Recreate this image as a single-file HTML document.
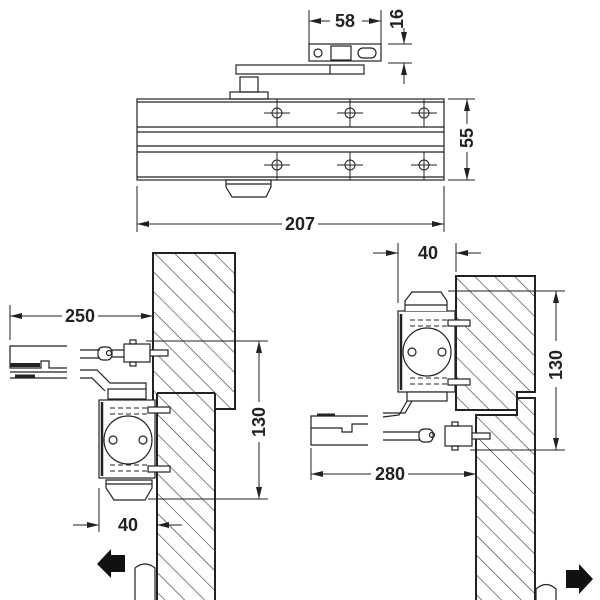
<!DOCTYPE html>
<html><head><meta charset="utf-8"><style>
html,body{margin:0;padding:0;background:#fff;}
svg{display:block;}
text{font-family:"Liberation Sans",Arial,sans-serif;font-weight:bold;font-size:18px;fill:#222;}
</style></head><body>
<svg width="600" height="600" viewBox="0 0 600 600" xmlns="http://www.w3.org/2000/svg">
<defs>
<pattern id="h" patternUnits="userSpaceOnUse" width="14" height="14" patternTransform="rotate(-45)">
<line x1="0" y1="0" x2="0" y2="14" stroke="#333" stroke-width="1.2"/>
</pattern>
<marker id="a" markerWidth="12" markerHeight="6" refX="12" refY="3" orient="auto" markerUnits="userSpaceOnUse">
<path d="M0,0 L12,3 L0,6 Z" fill="#222"/>
</marker>
</defs>
<g fill="none" stroke="#222" stroke-width="1.2">
<!-- TOP VIEW -->
<rect x="137" y="99" width="307" height="81" fill="#fff"/>
<line x1="137" y1="102" x2="444" y2="102"/>
<line x1="137" y1="127" x2="444" y2="127"/>
<line x1="137" y1="132" x2="444" y2="132"/>
<line x1="137" y1="146" x2="444" y2="146"/>
<line x1="137" y1="152" x2="444" y2="152"/>
<line x1="137" y1="177" x2="444" y2="177"/>
<g stroke-width="1">
<circle cx="277" cy="113" r="5"/><circle cx="350" cy="113" r="5"/><circle cx="424" cy="113" r="5"/>
<circle cx="277" cy="165" r="5"/><circle cx="350" cy="165" r="5"/><circle cx="424" cy="165" r="5"/>
<path d="M264 113h26M277 99v28M337 113h26M350 99v28M411 113h26M424 99v28"/>
<path d="M264 165h26M277 152v28M337 165h26M350 152v28M411 165h26M424 152v28"/>
</g>
<rect x="230" y="92" width="38" height="7"/>
<rect x="240" y="77" width="18" height="15"/>
<rect x="236" y="65" width="128" height="9"/>
<line x1="330" y1="65" x2="330" y2="74"/>
<rect x="309" y="44" width="72" height="17"/>
<circle cx="318" cy="53" r="4"/>
<rect x="358" y="48" width="18" height="10" rx="5"/>
<rect x="331" y="46" width="20" height="14"/>
<path d="M226 180 L271 180 L271 187 L266 197 L232 197 L226 187 Z" fill="#fff"/>
<line x1="226" y1="184" x2="271" y2="184"/>
<!-- dims top -->
<g stroke-width="1">
<line x1="309" y1="10" x2="309" y2="44"/><line x1="381" y1="10" x2="381" y2="44"/>
<line x1="330" y1="21" x2="309" y2="21" marker-end="url(#a)"/><line x1="362" y1="21" x2="381" y2="21" marker-end="url(#a)"/>
<line x1="388" y1="44" x2="412" y2="44"/><line x1="388" y1="63" x2="412" y2="63"/>
<line x1="404" y1="28" x2="404" y2="44" marker-end="url(#a)"/><line x1="404" y1="84" x2="404" y2="63" marker-end="url(#a)"/>
<line x1="448" y1="99" x2="475" y2="99"/><line x1="448" y1="180" x2="475" y2="180"/>
<line x1="467" y1="124" x2="467" y2="99" marker-end="url(#a)"/><line x1="467" y1="152" x2="467" y2="180" marker-end="url(#a)"/>
<line x1="137" y1="186" x2="137" y2="232"/><line x1="444" y1="186" x2="444" y2="232"/>
<line x1="282" y1="224" x2="137" y2="224" marker-end="url(#a)"/><line x1="318" y1="224" x2="444" y2="224" marker-end="url(#a)"/>
</g>

<!-- BOTTOM LEFT -->
<rect x="153" y="253" width="82" height="156" fill="url(#h)" stroke-width="2"/>
<rect x="157" y="393" width="58" height="210" fill="#fff" stroke="none"/>
<rect x="157" y="393" width="58" height="210" fill="url(#h)" stroke="none"/>
<line x1="157" y1="393" x2="157" y2="600" stroke-width="2"/><line x1="215" y1="393" x2="215" y2="600" stroke-width="2"/>
<line x1="157" y1="393" x2="215" y2="393" stroke-width="2"/>
<rect x="99" y="400" width="56" height="78" fill="#fff"/>
<line x1="102" y1="402" x2="102" y2="476" stroke-width="2.5"/>
<circle cx="128" cy="440" r="24" fill="#fff"/>
<circle cx="113" cy="440" r="4"/><circle cx="143" cy="440" r="4"/>
<path d="M110 408h38M110 414h38M110 465h38M110 471h38" stroke-dasharray="5,3" stroke-width="1"/>
<rect x="148" y="407" width="22" height="6" fill="#fff"/><rect x="148" y="466" width="22" height="6" fill="#fff"/>
<rect x="108" y="389" width="38" height="10" fill="#fff"/>
<path d="M106 480 H152 V488 L145 500 H114 L106 488 Z" fill="#fff"/>
<line x1="106" y1="484" x2="152" y2="484"/>
<path d="M80 370 H97 L110 383 H146 V389"/><path d="M80 378 H92 L105 391"/>
<path d="M80 350 H100 M80 358 H100"/>
<rect x="98" y="347" width="14" height="13" rx="5"/><circle cx="109" cy="353" r="2.5"/>
<path d="M112 350 H125 M112 357 H125"/>
<rect x="124" y="344" width="26" height="18" fill="#fff"/>
<rect x="130" y="340" width="6" height="4"/><rect x="130" y="362" width="6" height="4"/>
<rect x="150" y="350" width="18" height="6" fill="#fff"/>
<path d="M67 346 H10 V368 H41 V361 H49 V368 H67 M10 372 H67 M10 378 H67"/>
<line x1="10" y1="365" x2="40" y2="365" stroke-width="4"/><line x1="15" y1="376" x2="35" y2="376" stroke-width="3"/>
<g stroke-width="1">
<line x1="10" y1="305" x2="10" y2="340"/>
<line x1="62" y1="316" x2="10" y2="316" marker-end="url(#a)"/><line x1="98" y1="316" x2="153" y2="316" marker-end="url(#a)"/>
<line x1="146" y1="341" x2="268" y2="341"/><line x1="148" y1="499" x2="268" y2="499"/>
<line x1="259" y1="402" x2="259" y2="341" marker-end="url(#a)"/><line x1="259" y1="442" x2="259" y2="499" marker-end="url(#a)"/>
<line x1="99" y1="488" x2="99" y2="532"/>
<line x1="73" y1="525" x2="99" y2="525" marker-end="url(#a)"/><line x1="182" y1="525" x2="157" y2="525" marker-end="url(#a)"/>
</g>
<path d="M125 555 H111 V549 L97 564 L111 578 V572 H125 Z" fill="#111" stroke="none"/>
<path d="M135 600 V568 Q145 560 155 568 V600" fill="#fff"/>

<!-- BOTTOM RIGHT -->
<path d="M456 276 H535 V392 H517 V410 H456 Z" fill="url(#h)" stroke-width="2"/>
<path d="M476 603 V415 H517 V398 H535 V603 Z" fill="#fff" stroke-width="2"/>
<path d="M476 603 V415 H517 V398 H535 V603 Z" fill="url(#h)" stroke-width="2"/>
<rect x="398" y="311" width="57" height="81" fill="#fff"/>
<line x1="401" y1="314" x2="401" y2="390" stroke-width="2.5"/>
<circle cx="427" cy="352" r="24" fill="#fff"/>
<circle cx="412" cy="352" r="4"/><circle cx="442" cy="352" r="4"/>
<path d="M410 320h38M410 326h38M410 378h38M410 384h38" stroke-dasharray="5,3" stroke-width="1"/>
<rect x="448" y="320" width="22" height="6" fill="#fff"/><rect x="448" y="379" width="22" height="6" fill="#fff"/>
<path d="M405 311 V301 L412 292 H441 L447 301 V311" fill="#fff"/>
<line x1="405" y1="305" x2="447" y2="305"/>
<rect x="407" y="392" width="40" height="9" fill="#fff"/>
<path d="M412 401 L405 413 H383 M407 401 L399 415 L383 417"/>
<path d="M383 432 H420 M383 440 H420"/>
<rect x="419" y="429" width="14" height="13" rx="5"/><circle cx="432" cy="435" r="2.5"/>
<rect x="445" y="426" width="27" height="20" fill="#fff"/>
<rect x="452" y="422" width="6" height="4"/><rect x="452" y="446" width="6" height="4"/>
<rect x="472" y="433" width="18" height="6" fill="#fff"/>
<path d="M368 416 H311 V445 H368 M311 428 H342 V432 H352 V424 H368"/>
<line x1="317" y1="415" x2="335" y2="415" stroke-width="3"/>
<g stroke-width="1">
<line x1="398" y1="243" x2="398" y2="303"/><line x1="456" y1="243" x2="456" y2="272"/>
<line x1="373" y1="253" x2="398" y2="253" marker-end="url(#a)"/><line x1="481" y1="253" x2="456" y2="253" marker-end="url(#a)"/>
<line x1="448" y1="291" x2="565" y2="291"/><line x1="470" y1="450" x2="565" y2="450"/>
<line x1="556" y1="341" x2="556" y2="291" marker-end="url(#a)"/><line x1="556" y1="387" x2="556" y2="450" marker-end="url(#a)"/>
<line x1="311" y1="448" x2="311" y2="480"/>
<line x1="371" y1="474" x2="311" y2="474" marker-end="url(#a)"/><line x1="408" y1="474" x2="476" y2="474" marker-end="url(#a)"/>
</g>
<path d="M566 570 H579 V564 L593 579 L579 594 V588 H566 Z" fill="#111" stroke="none"/>
<path d="M536 600 V589 Q546 580 556 589 V600" fill="#fff"/>
</g>
<text x="345" y="27" text-anchor="middle">58</text>
<text transform="translate(403,19) rotate(-90)" text-anchor="middle">16</text>
<text transform="translate(473,138) rotate(-90)" text-anchor="middle">55</text>
<text x="300" y="230" text-anchor="middle">207</text>
<text x="80" y="322" text-anchor="middle">250</text>
<text transform="translate(265,422) rotate(-90)" text-anchor="middle">130</text>
<text x="128" y="531" text-anchor="middle">40</text>
<text x="428" y="259" text-anchor="middle">40</text>
<text transform="translate(562,365) rotate(-90)" text-anchor="middle">130</text>
<text x="390" y="480" text-anchor="middle">280</text>
</svg>
</body></html>
